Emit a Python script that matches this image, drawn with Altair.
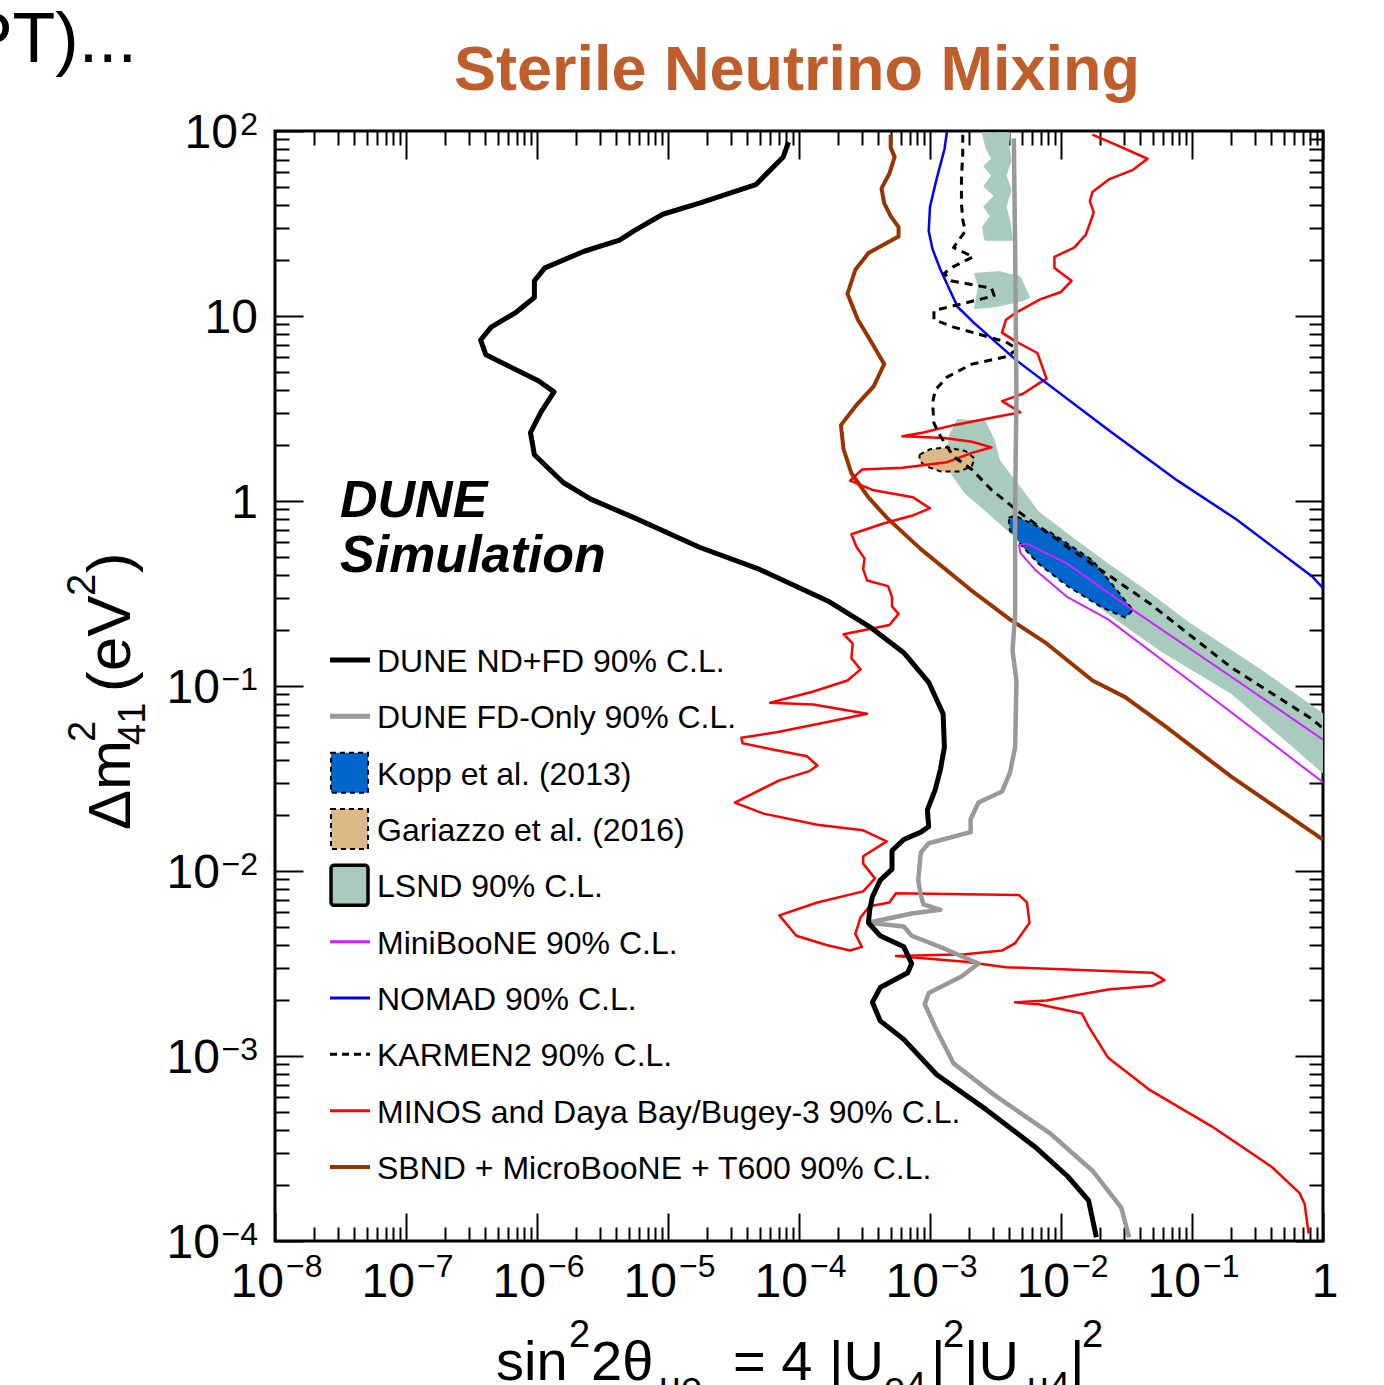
import altair as alt
import pandas as pd

W, H = 1048, 1110
FONT = "Liberation Sans"

# ---------------- data: (log10 sin^2 2theta, log10 dm^2_41) ----------------
dune_nd_fd = [(-4.08, 1.94), (-4.12, 1.86), (-4.33, 1.71), (-4.76, 1.61), (-5.04, 1.55), (-5.26, 1.46),
              (-5.37, 1.41), (-5.64, 1.35), (-5.94, 1.26), (-6.02, 1.19), (-6.02, 1.10), (-6.16, 1.02),
              (-6.35, 0.94), (-6.43, 0.87), (-6.39, 0.79), (-5.99, 0.65), (-5.87, 0.59), (-5.97, 0.48),
              (-6.05, 0.37), (-6.02, 0.25), (-5.80, 0.10), (-5.59, 0.01), (-5.26, -0.09), (-4.76, -0.25),
              (-4.30, -0.37), (-3.78, -0.54), (-3.46, -0.68), (-3.20, -0.82), (-3.01, -0.98), (-2.90, -1.15),
              (-2.89, -1.33), (-2.92, -1.45), (-2.96, -1.56), (-3.02, -1.67), (-3.01, -1.76), (-3.07, -1.79),
              (-3.20, -1.83), (-3.29, -1.89), (-3.29, -1.99), (-3.38, -2.05), (-3.44, -2.14), (-3.46, -2.21),
              (-3.47, -2.28), (-3.38, -2.35), (-3.20, -2.41), (-3.14, -2.50), (-3.17, -2.55), (-3.38, -2.63),
              (-3.44, -2.71), (-3.38, -2.81), (-3.20, -2.91), (-2.95, -3.10), (-2.57, -3.29), (-2.20, -3.49),
              (-1.95, -3.65), (-1.79, -3.78), (-1.73, -3.98)]

dune_fd_only = [(-2.36, 1.96), (-2.35, 1.36), (-2.34, 0.55), (-2.35, 0.01), (-2.35, -0.61), (-2.37, -0.81),
                (-2.34, -0.97), (-2.35, -1.33), (-2.39, -1.47), (-2.45, -1.57), (-2.63, -1.63), (-2.69, -1.72),
                (-2.69, -1.79), (-3.01, -1.85), (-3.07, -1.90), (-3.09, -2.05), (-3.07, -2.13), (-3.05, -2.18),
                (-2.92, -2.21), (-3.14, -2.23), (-3.47, -2.28), (-3.20, -2.30), (-3.14, -2.35), (-2.89, -2.42),
                (-2.63, -2.50), (-2.76, -2.57), (-3.01, -2.66), (-3.04, -2.72), (-2.95, -2.86), (-2.82, -3.04),
                (-2.51, -3.21), (-2.08, -3.42), (-1.76, -3.62), (-1.54, -3.82), (-1.48, -3.98)]

minos_dayabay_bugey = [(-1.76, 1.98), (-1.53, 1.91), (-1.34, 1.85), (-1.45, 1.79), (-1.63, 1.74), (-1.76, 1.67),
                       (-1.78, 1.62), (-1.75, 1.56), (-1.81, 1.44), (-1.90, 1.37), (-2.05, 1.32), (-2.05, 1.26),
                       (-1.92, 1.19), (-2.00, 1.13), (-2.16, 1.09), (-2.34, 1.02), (-2.42, 0.98), (-2.45, 0.91),
                       (-2.34, 0.86), (-2.18, 0.80), (-2.11, 0.66), (-2.16, 0.64), (-2.29, 0.58), (-2.45, 0.54),
                       (-2.31, 0.48), (-2.53, 0.45), (-2.82, 0.41), (-3.05, 0.37), (-3.21, 0.35), (-2.89, 0.34),
                       (-2.68, 0.32), (-2.53, 0.29), (-2.68, 0.26), (-2.87, 0.21), (-3.21, 0.18), (-3.52, 0.17),
                       (-3.61, 0.11), (-3.44, 0.06), (-3.13, 0.02), (-3.00, -0.04), (-3.14, -0.08), (-3.35, -0.12),
                       (-3.60, -0.18), (-3.56, -0.25), (-3.50, -0.31), (-3.51, -0.37), (-3.48, -0.43), (-3.32, -0.46),
                       (-3.29, -0.52), (-3.29, -0.57), (-3.24, -0.61), (-3.31, -0.67), (-3.66, -0.72), (-3.59, -0.77),
                       (-3.60, -0.85), (-3.53, -0.91), (-3.63, -0.97), (-3.89, -1.03), (-4.22, -1.09), (-3.89, -1.10),
                       (-3.48, -1.15), (-3.82, -1.20), (-4.17, -1.25), (-4.44, -1.28), (-4.43, -1.31), (-4.22, -1.34),
                       (-3.94, -1.38), (-3.86, -1.43), (-3.92, -1.46), (-4.15, -1.51), (-4.49, -1.63), (-4.27, -1.69),
                       (-3.86, -1.75), (-3.51, -1.78), (-3.33, -1.84), (-3.51, -1.92), (-3.51, -1.96), (-3.42, -2.04),
                       (-3.51, -2.11), (-3.86, -2.17), (-4.15, -2.24), (-4.02, -2.35), (-3.79, -2.40), (-3.61, -2.43),
                       (-3.52, -2.41), (-3.57, -2.34), (-3.53, -2.25), (-3.46, -2.19), (-3.31, -2.17), (-3.26, -2.12),
                       (-2.32, -2.13), (-2.26, -2.17), (-2.24, -2.28), (-2.35, -2.39), (-2.45, -2.43), (-2.73, -2.45),
                       (-3.26, -2.46), (-2.73, -2.49), (-2.42, -2.52), (-1.30, -2.55), (-1.21, -2.59), (-1.30, -2.62),
                       (-1.64, -2.64), (-2.11, -2.70), (-2.35, -2.71), (-2.17, -2.72), (-1.84, -2.77), (-1.79, -2.84),
                       (-1.64, -3.01), (-1.33, -3.18), (-0.85, -3.38), (-0.39, -3.60), (-0.18, -3.74), (-0.14, -3.80),
                       (-0.11, -3.96)]

sbnd_microboone_t600 = [(-3.30, 1.98), (-3.30, 1.91), (-3.27, 1.86), (-3.31, 1.77), (-3.37, 1.69), (-3.35, 1.61),
                        (-3.30, 1.54), (-3.24, 1.48), (-3.24, 1.43), (-3.47, 1.34), (-3.57, 1.25), (-3.63, 1.12),
                        (-3.55, 0.98), (-3.44, 0.85), (-3.35, 0.74), (-3.43, 0.62), (-3.56, 0.52), (-3.68, 0.41),
                        (-3.66, 0.28), (-3.60, 0.15), (-3.47, 0.02), (-3.33, -0.09), (-3.07, -0.26), (-2.69, -0.48),
                        (-2.39, -0.64), (-2.11, -0.77), (-1.76, -0.97), (-1.51, -1.06), (-1.20, -1.22), (-0.70, -1.49),
                        (-0.33, -1.67), (0.0, -1.83)]

nomad = [(-2.87, 2.0), (-2.89, 1.90), (-2.95, 1.74), (-3.00, 1.59), (-3.01, 1.46), (-2.98, 1.36), (-2.92, 1.25),
         (-2.79, 1.05), (-2.66, 0.96), (-2.34, 0.76), (-1.63, 0.38), (-1.11, 0.11), (-0.66, -0.10), (-0.08, -0.41),
         (0.0, -0.47)]

miniboone = [(0.0, -1.29), (-0.70, -0.95), (-1.45, -0.59), (-1.95, -0.34), (-2.26, -0.23), (-2.32, -0.24),
             (-2.31, -0.28), (-2.20, -0.37), (-1.95, -0.52), (-1.64, -0.64), (-1.02, -0.97), (0.0, -1.52)]

karmen2 = [(-2.75, 1.98), (-2.75, 1.88), (-2.76, 1.74), (-2.76, 1.61), (-2.75, 1.52), (-2.73, 1.46), (-2.82, 1.37),
           (-2.67, 1.32), (-2.84, 1.26), (-2.89, 1.23), (-2.84, 1.19), (-2.53, 1.15), (-2.51, 1.11), (-2.73, 1.07),
           (-2.97, 1.03), (-2.97, 0.98), (-2.82, 0.94), (-2.42, 0.86), (-2.33, 0.82), (-2.42, 0.78), (-2.68, 0.74),
           (-2.87, 0.67), (-2.96, 0.60), (-2.98, 0.53), (-2.97, 0.42), (-2.92, 0.35), (-2.82, 0.24), (-2.68, 0.17),
           (-2.53, 0.06), (-2.32, -0.06), (-1.95, -0.25), (-1.33, -0.55), (-0.70, -0.90), (-0.08, -1.18),
           (0.0, -1.23)]

lsnd_band = [(-2.79, 0.44), (-2.58, 0.43), (-2.51, 0.33), (-2.47, 0.22), (-2.35, 0.11), (-2.17, -0.06),
             (-1.89, -0.21), (-1.64, -0.34), (-1.32, -0.50), (-1.02, -0.66), (-0.48, -0.91), (0.0, -1.15),
             (0.0, -1.47), (-0.70, -1.04), (-1.24, -0.81), (-1.64, -0.61), (-2.08, -0.35), (-2.39, -0.17),
             (-2.58, -0.05), (-2.73, 0.04), (-2.84, 0.15), (-2.87, 0.26), (-2.85, 0.36)]

lsnd_mid = [(-2.66, 1.23), (-2.47, 1.24), (-2.31, 1.21), (-2.24, 1.10), (-2.31, 1.08), (-2.50, 1.05),
            (-2.66, 1.04), (-2.63, 1.16)]

lsnd_top = [(-2.60, 1.99), (-2.57, 1.90), (-2.53, 1.85), (-2.59, 1.81), (-2.53, 1.76), (-2.59, 1.70),
            (-2.51, 1.65), (-2.59, 1.59), (-2.54, 1.54), (-2.60, 1.48), (-2.58, 1.41), (-2.37, 1.41),
            (-2.39, 1.51), (-2.42, 1.59), (-2.38, 1.68), (-2.42, 1.76), (-2.38, 1.84), (-2.40, 1.92),
            (-2.39, 1.99)]

kopp_2013 = [(-2.40, -0.09), (-2.35, -0.08), (-2.08, -0.17), (-1.76, -0.32), (-1.45, -0.59), (-1.51, -0.63),
             (-1.70, -0.57), (-1.95, -0.46), (-2.17, -0.34), (-2.29, -0.25), (-2.39, -0.16)]

gariazzo_2016 = [(-3.08, 0.25), (-3.00, 0.28), (-2.87, 0.29), (-2.73, 0.27), (-2.66, 0.23), (-2.68, 0.19),
                 (-2.77, 0.16), (-2.92, 0.16), (-3.04, 0.19), (-3.08, 0.22)]

legend_labels = ["DUNE ND+FD 90% C.L.", "DUNE FD-Only 90% C.L.", "Kopp et al. (2013)",
                 "Gariazzo et al. (2016)", "LSND 90% C.L.", "MiniBooNE 90% C.L.", "NOMAD 90% C.L.",
                 "KARMEN2 90% C.L.", "MINOS and Daya Bay/Bugey-3 90% C.L.", "SBND + MicroBooNE + T600 90% C.L."]

x_exponents = list(range(-8, 1))
y_exponents = list(range(-4, 3))
x_major = [10.0 ** e for e in x_exponents]
y_major = [10.0 ** e for e in y_exponents]
x_minor = [k * 10.0 ** e for e in range(-8, 0) for k in range(2, 10)]
y_minor = [k * 10.0 ** e for e in range(-4, 2) for k in range(2, 10)]

# ---------------- helpers ----------------
xs = alt.Scale(type="log", domain=[1e-8, 1], nice=False)
ys = alt.Scale(type="log", domain=[1e-4, 1e2], nice=False)


def frame(pts, close=False):
    p = list(pts) + ([pts[0]] if close else [])
    return pd.DataFrame({"s": [10.0 ** a for a, b in p], "m": [10.0 ** b for a, b in p],
                         "i": list(range(len(p)))})


def enc():
    return dict(x=alt.X("s:Q", scale=xs, axis=None), y=alt.Y("m:Q", scale=ys, axis=None),
                order=alt.Order("i:Q"))


def curve(pts, color, width, dash=None):
    kw = dict(stroke=color, strokeWidth=width, clip=True, strokeJoin="round", strokeCap="butt")
    if dash:
        kw["strokeDash"] = dash
    return alt.Chart(frame(pts)).mark_line(**kw).encode(**enc())


def region(pts, fill, stroke, width, dash=None):
    kw = dict(fill=fill, stroke=stroke, strokeWidth=width, clip=True, strokeJoin="round")
    if dash:
        kw["strokeDash"] = dash
    return alt.Chart(frame(pts, close=True)).mark_line(**kw).encode(**enc())


LSND = "#a9cbbd"
layers = [
    region(lsnd_band, LSND, LSND, 1),
    region(lsnd_mid, LSND, LSND, 1),
    region(lsnd_top, LSND, LSND, 1),
    region(gariazzo_2016, "#dcb986", "black", 2, [5, 4]),
    curve(sbnd_microboone_t600, "#993300", 4),
    curve(minos_dayabay_bugey, "#ff0000", 2.5),
    curve(nomad, "#0000ff", 2.5),
    region(kopp_2013, "#0066cc", "black", 2, [5, 4]),
    curve(miniboone, "#cc22ff", 2),
    curve(karmen2, "black", 3, [8, 6]),
    curve(dune_fd_only, "#999999", 4.5),
    curve(dune_nd_fd, "black", 5),
]

# ---------------- axes: inward ticks on all four sides ----------------
dummy = pd.DataFrame({"s": [1e-4], "m": [1.0]})


def tick_axis(orient, offset, values, size):
    return alt.Axis(orient=orient, offset=offset, values=values, tickSize=size, tickWidth=2,
                    tickColor="black", labels=False, domain=False, grid=False, title=None)


def axis_layer(xa, ya):
    return alt.Chart(dummy).mark_point(opacity=0).encode(
        x=alt.X("s:Q", scale=xs, axis=xa), y=alt.Y("m:Q", scale=ys, axis=ya))


layers += [
    axis_layer(tick_axis("top", -H, x_major, 28), tick_axis("right", -W, y_major, 28)),
    axis_layer(tick_axis("top", -H, x_minor, 14), tick_axis("right", -W, y_minor, 14)),
    axis_layer(tick_axis("bottom", -H, x_major, 28), tick_axis("left", -W, y_major, 28)),
    axis_layer(tick_axis("bottom", -H, x_minor, 14), tick_axis("left", -W, y_minor, 14)),
]

# ---------------- tick labels: "10" with a raised exponent ----------------
def exp_text(e):
    return "" if e in (0, 1) else ("\u2212" + str(-e) if e < 0 else str(e))


xl = pd.DataFrame({"v": x_major, "e": x_exponents,
                   "b": ["1" if e == 0 else "10" for e in x_exponents],
                   "x": [exp_text(e) for e in x_exponents]})
yl = pd.DataFrame({"v": y_major, "e": y_exponents,
                   "b": ["1" if e == 0 else "10" for e in y_exponents],
                   "x": [exp_text(e) for e in y_exponents]})

lab = dict(font=FONT, color="black", baseline="alphabetic")
layers += [
    alt.Chart(xl[xl.e != 0]).mark_text(align="right", dx=9, fontSize=48, **lab).encode(
        x=alt.X("v:Q", scale=xs, axis=None), y=alt.value(H + 56), text="b:N"),
    alt.Chart(xl[xl.e == 0]).mark_text(align="center", dx=2, fontSize=48, **lab).encode(
        x=alt.X("v:Q", scale=xs, axis=None), y=alt.value(H + 56), text="b:N"),
    alt.Chart(xl[xl.x != ""]).mark_text(align="left", dx=11, fontSize=32, **lab).encode(
        x=alt.X("v:Q", scale=xs, axis=None), y=alt.value(H + 36), text="x:N"),
    alt.Chart(yl).transform_calculate(px="datum.e < 0 ? -55 : (datum.e == 2 ? -37 : -17)")
    .mark_text(align="right", dy=17, fontSize=48, **lab).encode(
        x=alt.X("px:Q", scale=None, axis=None), y=alt.Y("v:Q", scale=ys, axis=None), text="b:N"),
    alt.Chart(yl[yl.x != ""]).mark_text(align="right", dy=4, fontSize=32, **lab).encode(
        x=alt.value(-17), y=alt.Y("v:Q", scale=ys, axis=None), text="x:N"),
]

# ---------------- texts ----------------
one = pd.DataFrame({"a": [0]})


def txt(t, x, y, size, **kw):
    base = dict(text=t, fontSize=size, font=FONT, color="black", align="left", baseline="alphabetic")
    base.update(kw)
    return alt.Chart(one).mark_text(**base).encode(x=alt.value(x), y=alt.value(y))


XB = 1249          # x-title baseline (relative to plot top)
layers += [
    txt("Sterile Neutrino Mixing", 522, -41, 63, fontWeight="bold", color="#bf5e2a", align="center"),
    txt("PT)...", -138, -69, 70, align="right"),
    txt("DUNE", 65, 386, 52, fontWeight="bold", fontStyle="italic"),
    txt("Simulation", 65, 441, 52, fontWeight="bold", fontStyle="italic"),
    # x-axis title: sin^2 2theta_mu e = 4|U_e4|^2|U_mu4|^2
    txt("sin", 221, XB, 56),
    txt("2", 294, XB - 33, 38),
    txt("2\u03b8", 316, XB, 56),
    txt("\u03bce", 384, XB + 19, 38),
    txt("= 4", 458, XB, 56),
    txt("|U", 554, XB, 56),
    txt("e4", 609, XB + 19, 38),
    txt("|", 656, XB, 56),
    txt("2", 668, XB - 33, 38),
    txt("|U", 689, XB, 56),
    txt("\u03bc4", 752, XB + 19, 38),
    txt("|", 795, XB, 56),
    txt("2", 807, XB - 33, 38),
    # y-axis title: dm^2_41 (eV^2), rotated
    txt("\u0394m", -145, 699, 60, angle=270),
    txt("2", -180, 611, 38, angle=270),
    txt("41", -130, 614, 38, angle=270),
    txt("(eV", -145, 561, 62, angle=270),
    txt("2", -180, 465, 40, angle=270),
    txt(")", -145, 442, 62, angle=270),
]

# ---------------- legend ----------------
ROW0, DY = 529, 56.33
leg_df = pd.DataFrame({"label": legend_labels, "row": list(range(len(legend_labels)))})
layers.append(
    alt.Chart(leg_df).transform_calculate(py=f"{ROW0} + datum.row * {DY}")
    .mark_text(align="left", baseline="middle", fontSize=32, font=FONT, color="black", dy=2)
    .encode(x=alt.value(102), y=alt.Y("py:Q", scale=None, axis=None), text="label:N"))

line_styles = {0: ("black", 5, None), 1: ("#999999", 5, None), 5: ("#cc22ff", 3, None),
               6: ("#0000ff", 3, None), 7: ("black", 3, [7, 5]), 8: ("#ff0000", 3, None),
               9: ("#993300", 4, None)}
box_styles = {2: ("#0066cc", 2, [5, 4]), 3: ("#dcb986", 2, [5, 4]), 4: (LSND, 3.5, None)}

for r, (col, w, dash) in line_styles.items():
    yy = ROW0 + r * DY
    kw = dict(color=col, strokeWidth=w)
    if dash:
        kw["strokeDash"] = dash
    layers.append(alt.Chart(one).mark_rule(**kw).encode(
        x=alt.value(55), x2=alt.value(95), y=alt.value(yy)))

for r, (col, w, dash) in box_styles.items():
    yy = ROW0 + r * DY
    kw = dict(fill=col, stroke="black", strokeWidth=w, cornerRadius=3 if not dash else 0)
    if dash:
        kw["strokeDash"] = dash
    layers.append(alt.Chart(one).mark_rect(**kw).encode(
        x=alt.value(56), x2=alt.value(93), y=alt.value(yy - 20), y2=alt.value(yy + 20)))

chart = (alt.layer(*layers)
         .resolve_axis(x="independent", y="independent")
         .properties(width=W, height=H, autosize=alt.AutoSizeParams(type="none"),
                     padding={"left": 275, "top": 131, "right": 61, "bottom": 144})
         .configure_view(stroke="black", strokeWidth=3))

chart.save("out.html", embed_options={"renderer": "svg", "actions": False})
